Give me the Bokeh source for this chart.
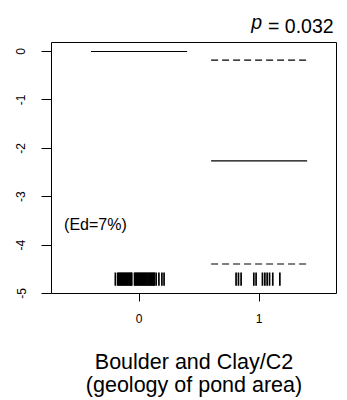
from bokeh.plotting import figure
from bokeh.models import Range1d, Label, FixedTicker, Title, LinearAxis
from bokeh.embed import file_html
from bokeh.resources import INLINE

# Partial effect of pond geology (two levels) with confidence bounds
levels = [0, 1]
level_labels = ["0", "1"]
effect = [0.0, -2.26]
upper = [0.0, -0.18]
lower = [0.0, -4.39]
half_width = 0.4

# Jittered observation positions (rug) for each level
rug_level0 = [-0.198,
              -0.178, -0.170, -0.162, -0.154, -0.146, -0.138, -0.130, -0.122,
              -0.114, -0.106, -0.098, -0.090, -0.082, -0.074, -0.066, -0.061,
              -0.038, -0.030, -0.022, -0.014, -0.006, 0.002, 0.010, 0.018,
              0.026, 0.034, 0.042, 0.050, 0.058, 0.066, 0.074, 0.082, 0.090,
              0.098, 0.106, 0.114, 0.122, 0.127,
              0.142, 0.165, 0.190, 0.208]
rug_level1 = [0.808, 0.828, 0.850, 0.956, 0.975,
              1.028, 1.048, 1.067, 1.087, 1.114, 1.173]
rug_top, rug_bottom = -4.566, -4.841

y_ticks = [0, -1, -2, -3, -4, -5]
y_tick_labels = ["0", "-1", "-2", "-3", "-4", "-5"]

p_symbol = "p"
p_value_text = "= 0.032"
p_symbol_x = 0.98
p_value_x = 1.3475
fit_note = "(Ed=7%)"
x_title = ["Boulder and Clay/C2", "(geology of pond area)"]

FONT = "Liberation Sans"

p = figure(width=347, height=400, output_backend="svg", toolbar_location=None,
           x_range=Range1d(-0.73, 1.645), y_range=Range1d(-5, 0.186),
           min_border_left=51, min_border_right=11,
           min_border_top=42, min_border_bottom=107)
p.background_fill_color = "white"
p.border_fill_color = "white"
p.outline_line_color = "black"
p.outline_line_width = 1
p.xgrid.visible = False
p.ygrid.visible = False

# Axes
p.xaxis.ticker = FixedTicker(ticks=levels)
p.xaxis.major_label_overrides = {lv: lb for lv, lb in zip(levels, level_labels)}
p.yaxis.ticker = FixedTicker(ticks=y_ticks)
p.yaxis.major_label_overrides = {t: lb for t, lb in zip(y_ticks, y_tick_labels)}
p.yaxis.major_label_orientation = "vertical"
for ax in (p.xaxis, p.yaxis):
    ax.axis_line_color = None
    ax.minor_tick_line_color = None
    ax.major_tick_in = 0
    ax.major_tick_line_color = "black"
    ax.major_label_text_font = FONT
    ax.major_label_text_font_size = "12px"
    ax.major_label_text_color = "black"
p.xaxis.major_tick_out = 8
p.xaxis.major_label_standoff = 12
p.yaxis.major_tick_out = 10
p.yaxis.major_label_standoff = 16

# First line of the x title as the axis label
p.xaxis.axis_label = x_title[0]
p.xaxis.axis_label_text_font = FONT
p.xaxis.axis_label_text_font_size = "21.5px"
p.xaxis.axis_label_text_font_style = "normal"
p.xaxis.axis_label_text_color = "black"
p.xaxis.axis_label_standoff = 24

# Second line of the x title
p.add_layout(Title(text=x_title[1], align="center", vertical_align="top",
                   standoff=-8, text_font=FONT, text_font_size="21.5px",
                   text_font_style="normal", text_color="black"), "below")


# p-value above the frame, written as two label-only axes sharing one line
def label_axis(pos, text, style, standoff):
    ax = LinearAxis(ticker=FixedTicker(ticks=[pos]),
                    major_label_overrides={pos: text})
    ax.axis_line_color = None
    ax.major_tick_line_color = None
    ax.minor_tick_line_color = None
    ax.major_tick_in = 0
    ax.major_tick_out = 0
    ax.major_label_standoff = standoff
    ax.major_label_text_font = FONT
    ax.major_label_text_font_size = "19.5px"
    ax.major_label_text_font_style = style
    ax.major_label_text_color = "black"
    return ax


p.add_layout(label_axis(p_value_x, p_value_text, "normal", 6), "above")
p.add_layout(label_axis(p_symbol_x, p_symbol, "italic", -21), "above")

# Fitted effect and bounds per level
x0 = [lv - half_width for lv in levels]
x1 = [lv + half_width for lv in levels]
p.segment(x0=x0, x1=x1, y0=upper, y1=upper, line_color="black",
          line_width=1.2, line_dash="7 4")
p.segment(x0=x0, x1=x1, y0=lower, y1=lower, line_color="black",
          line_width=1.2, line_dash="7 4")
p.segment(x0=x0, x1=x1, y0=effect, y1=effect, line_color="black",
          line_width=1.2)

# Rug of observations
rug_x = rug_level0 + rug_level1
p.segment(x0=rug_x, x1=rug_x, y0=[rug_top] * len(rug_x),
          y1=[rug_bottom] * len(rug_x), line_color="black", line_width=1.7)

# Note inside the plot area
p.add_layout(Label(x=-0.625, y=-3.566, text=fit_note, text_font=FONT,
                   text_font_size="16px", text_align="left",
                   text_baseline="alphabetic", text_color="black"))

open("out.html", "w").write(file_html(p, INLINE))
